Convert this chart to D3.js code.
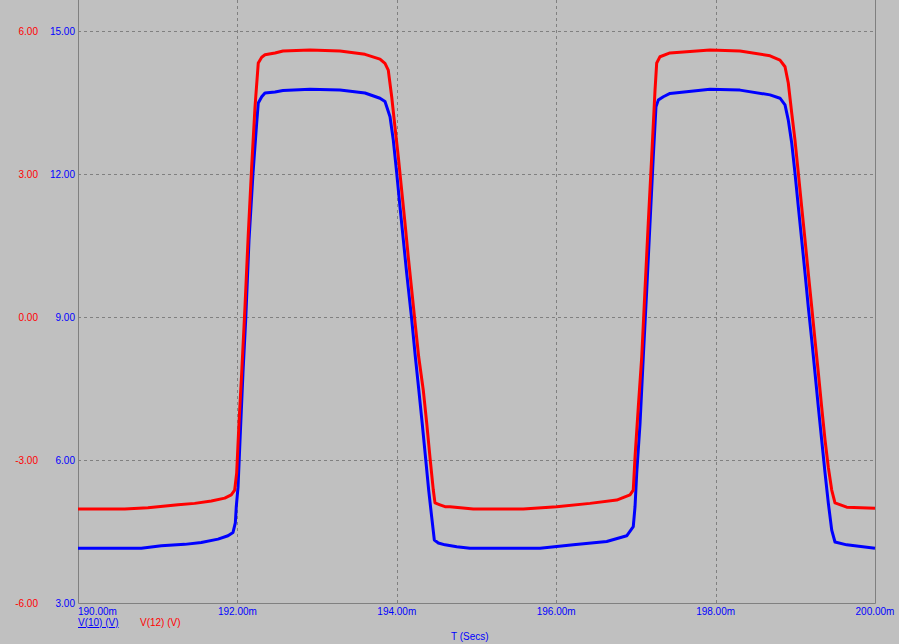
<!DOCTYPE html>
<html><head><meta charset="utf-8">
<script src="https://cdn.jsdelivr.net/npm/d3@7/dist/d3.min.js"></script>
<style>
html,body{margin:0;padding:0;background:#c0c0c0;}
svg{display:block;}
text{font-family:Arial,"Liberation Sans",sans-serif;font-size:10px;}
</style></head>
<body><svg id="c" width="899" height="644"></svg>
<script>
// time in ms
const blueT = [190.000,190.794,191.045,191.339,191.547,191.757,191.882,191.945,191.974,191.986,192.008,192.033,192.070,192.104,192.146,192.196,192.242,192.262,192.305,192.346,192.472,192.572,192.911,193.287,193.601,193.789,193.852,193.915,193.956,193.999,194.040,194.082,194.124,194.184,194.233,194.276,194.318,194.360,194.400,194.438,194.471,194.521,194.605,194.752,194.918,195.797,196.215,196.634,196.885,196.967,196.989,197.010,197.052,197.093,197.136,197.177,197.218,197.252,197.281,197.344,197.428,197.930,198.306,198.683,198.808,198.871,198.912,198.955,198.996,199.038,199.080,199.122,199.163,199.206,199.247,199.289,199.331,199.373,199.414,199.457,199.498,199.645,200.000];
const blueV = [4.15,4.15,4.20,4.23,4.27,4.34,4.41,4.48,4.68,5.02,5.43,6.42,7.83,8.94,10.62,12.02,13.07,13.49,13.62,13.70,13.72,13.75,13.78,13.76,13.70,13.59,13.52,13.20,12.71,12.02,11.31,10.62,9.92,9.00,8.16,7.47,6.78,6.06,5.37,4.80,4.32,4.26,4.22,4.18,4.15,4.15,4.22,4.29,4.41,4.60,5.02,5.72,6.77,8.17,9.57,10.97,12.36,13.41,13.55,13.62,13.69,13.78,13.76,13.66,13.59,13.45,13.13,12.65,12.02,11.31,10.62,9.92,9.21,8.52,7.83,7.11,6.42,5.73,5.10,4.53,4.28,4.22,4.15];
const redT = [190.000,190.586,190.878,191.255,191.464,191.673,191.841,191.923,191.966,191.991,192.020,192.054,192.095,192.137,192.179,192.221,192.262,192.305,192.346,192.472,192.572,192.911,193.287,193.601,193.789,193.852,193.893,193.936,193.977,194.019,194.061,194.103,194.144,194.187,194.230,194.275,194.332,194.375,194.416,194.458,194.479,194.542,194.605,194.667,194.960,195.587,196.006,196.424,196.759,196.926,196.967,196.989,197.030,197.073,197.114,197.155,197.198,197.240,197.261,197.302,197.428,197.930,198.306,198.683,198.808,198.871,198.912,198.955,198.996,199.038,199.080,199.122,199.163,199.206,199.247,199.289,199.331,199.373,199.414,199.457,199.498,199.645,200.000];
const redV = [-4.03,-4.03,-4.00,-3.94,-3.91,-3.86,-3.80,-3.73,-3.63,-3.27,-2.22,-1.17,0.21,1.76,3.15,4.41,5.33,5.45,5.50,5.54,5.58,5.60,5.58,5.51,5.41,5.32,5.18,4.62,3.99,3.36,2.66,1.97,1.26,0.57,-0.13,-0.84,-1.53,-2.22,-2.94,-3.63,-3.90,-3.94,-3.98,-3.98,-4.03,-4.03,-3.98,-3.91,-3.84,-3.73,-3.63,-2.94,-1.89,-0.84,0.57,1.97,3.36,4.76,5.33,5.46,5.54,5.60,5.58,5.48,5.39,5.25,4.91,4.28,3.71,3.02,2.31,1.62,0.92,0.21,-0.48,-1.17,-1.89,-2.58,-3.15,-3.63,-3.90,-3.99,-4.01];
const xTicks = [190,192,194,196,198,200];
const blueTicks = [3,6,9,12,15];
const redTicks = [-6,-3,0,3,6];
const blueName = "V(10) (V)";
const redName = "V(12) (V)";
const xTitle = "T (Secs)";

const fmt = d3.formatLocale({decimal:".",thousands:",",grouping:[3],currency:["",""],minus:"-"}).format(".2f");

const svg = d3.select("#c");
const L = 78, R = 875, T = 31, B = 603;
const x = d3.scaleLinear().domain([190,200]).range([L,R]);
const yB = d3.scaleLinear().domain([3,15]).range([B,T]);
const yR = d3.scaleLinear().domain([-6,6]).range([B,T]);
const grid = "#808080";

// grid
const g = svg.append("g");
g.selectAll("line.h").data(blueTicks.filter(v=>v>3)).enter().append("line")
  .attr("x1",L).attr("x2",R).attr("y1",d=>Math.round(yB(d))+0.5).attr("y2",d=>Math.round(yB(d))+0.5)
  .attr("stroke",grid).attr("stroke-dasharray","3,3");
g.selectAll("line.v").data(xTicks.filter(v=>v>190&&v<200)).enter().append("line")
  .attr("x1",d=>Math.round(x(d))+0.5).attr("x2",d=>Math.round(x(d))+0.5).attr("y1",0).attr("y2",B)
  .attr("stroke",grid).attr("stroke-dasharray","3,3");
// frame
svg.append("path").attr("d",`M${L+0.5},0V${B+0.5}H${R+0.5}V0`).attr("fill","none").attr("stroke",grid).attr("stroke-width",1);

// lines
const lb = d3.line().x(d=>x(d[0])).y(d=>yB(d[1]));
const lr = d3.line().x(d=>x(d[0])).y(d=>yR(d[1]));
svg.append("path").datum(d3.zip(blueT,blueV)).attr("d",lb).attr("fill","none").attr("stroke","#0000ff").attr("stroke-width",3).attr("stroke-linejoin","round");
svg.append("path").datum(d3.zip(redT,redV)).attr("d",lr).attr("fill","none").attr("stroke","#ff0000").attr("stroke-width",3).attr("stroke-linejoin","round");

// y labels
svg.selectAll("text.b").data(blueTicks).enter().append("text")
  .attr("x",75).attr("y",d=>yB(d)+3.5).attr("text-anchor","end").attr("fill","#0000ff").text(d=>fmt(d));
svg.selectAll("text.r").data(redTicks).enter().append("text")
  .attr("x",38).attr("y",d=>yR(d)+3.5).attr("text-anchor","end").attr("fill","#ff0000").text(d=>fmt(d));
// x labels
svg.selectAll("text.x").data(xTicks).enter().append("text")
  .attr("x",(d,i)=>i===0?L:x(d)).attr("y",615).attr("text-anchor",(d,i)=>i===0?"start":"middle")
  .attr("fill","#0000ff").text(d=>fmt(d)+"m");
// legend
svg.append("text").attr("x",78).attr("y",626).attr("fill","#0000ff").attr("text-decoration","underline").text(blueName);
svg.append("text").attr("x",140).attr("y",626).attr("fill","#ff0000").text(redName);
svg.append("text").attr("x",451).attr("y",640).attr("fill","#0000ff").text(xTitle);
</script></body></html>
